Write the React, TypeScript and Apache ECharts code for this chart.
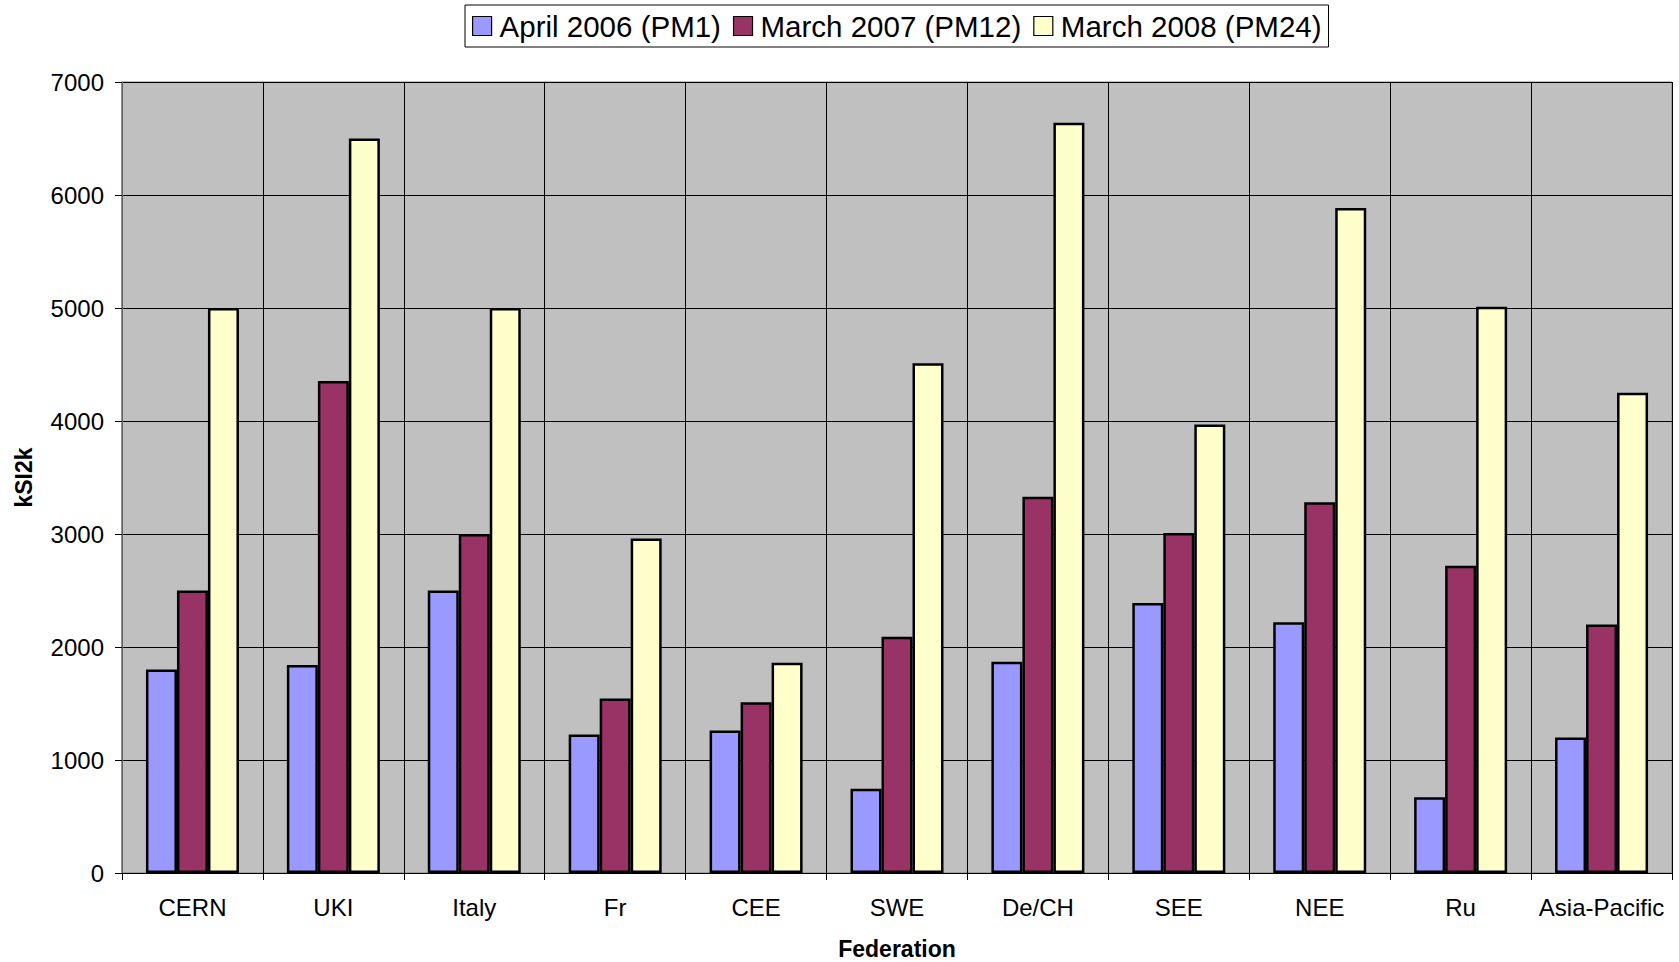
import React, { useEffect, useRef } from "react";
import * as echarts from "echarts";

const categories = ["CERN", "UKI", "Italy", "Fr", "CEE", "SWE", "De/CH", "SEE", "NEE", "Ru", "Asia-Pacific"];
const seriesNames = ["April 2006 (PM1)", "March 2007 (PM12)", "March 2008 (PM24)"];
const april2006 = [1800, 1840, 2500, 1225, 1260, 745, 1870, 2390, 2220, 670, 1200];
const march2007 = [2500, 4355, 3000, 1545, 1510, 2090, 3330, 3008, 3280, 2720, 2200];
const march2008 = [5000, 6500, 5000, 2960, 1860, 4510, 6640, 3970, 5885, 5010, 4250];
const seriesColors = ["#9999FF", "#993366", "#FFFFCC"];
const yTicks = { min: 0, max: 7000, interval: 1000 };

export default function App() {
  const ref = useRef<HTMLDivElement>(null);
  useEffect(() => {
    if (!ref.current) return;
    const chart = echarts.init(ref.current, undefined, { renderer: "svg" });
    const font = "Arial, 'Liberation Sans', sans-serif";
    const data = [april2006, march2007, march2008];
    chart.setOption({
      animation: false,
      textStyle: { fontFamily: font },
      legend: {
        top: 5,
        left: 465,
        data: seriesNames,
        icon: "rect",
        itemWidth: 19,
        itemHeight: 19,
        itemGap: 12,
        padding: [6, 7, 6, 7],
        borderColor: "#000",
        borderWidth: 1,
        backgroundColor: "#fff",
        textStyle: { fontSize: 29.5, color: "#000", fontFamily: font, padding: [0, 0, 0, 3] },
        itemStyle: { borderColor: "#000", borderWidth: 1.2 },
      },
      grid: {
        left: 122,
        right: 7,
        top: 82,
        bottom: 89,
        outerBoundsMode: "none",
        containLabel: false,
        show: true,
        backgroundColor: "#C0C0C0",
        borderColor: "#808080",
        borderWidth: 1,
      },
      xAxis: {
        type: "category",
        data: categories,
        name: "Federation",
        nameLocation: "middle",
        nameGap: 64,
        nameTextStyle: { fontSize: 23, fontWeight: "bold", color: "#000", fontFamily: font },
        axisLine: { lineStyle: { color: "#000", width: 1 } },
        axisTick: { show: true, length: 7, lineStyle: { color: "#000" } },
        axisLabel: { fontSize: 24, color: "#000", margin: 22, interval: 0, fontFamily: font },
        splitLine: { show: true, interval: 0, lineStyle: { color: "#000", width: 1 } },
      },
      yAxis: {
        type: "value",
        min: yTicks.min,
        max: yTicks.max,
        interval: yTicks.interval,
        name: "kSI2k",
        nameLocation: "middle",
        nameGap: 87,
        nameTextStyle: { fontSize: 23, fontWeight: "bold", color: "#000", fontFamily: font },
        axisLine: { show: true, lineStyle: { color: "#808080", width: 1.5 } },
        axisTick: { show: true, length: 7, lineStyle: { color: "#000" } },
        axisLabel: {
          fontSize: 24,
          color: "#000",
          margin: 18,
          fontFamily: font,
          formatter: (v: number) => String(v),
        },
        splitLine: { show: true, lineStyle: { color: "#000", width: 1 } },
      },
      series: seriesNames.map((name, i) => ({
        name,
        type: "bar",
        data: data[i],
        barGap: "0%",
        barCategoryGap: "34%",
        itemStyle: { color: seriesColors[i], borderColor: "#000", borderWidth: 2.5 },
      })),
    });
    return () => chart.dispose();
  }, []);
  return (
    <div
      ref={ref}
      style={{ position: "absolute", left: 0, top: 0, width: 1679, height: 962, background: "#fff" }}
    />
  );
}
